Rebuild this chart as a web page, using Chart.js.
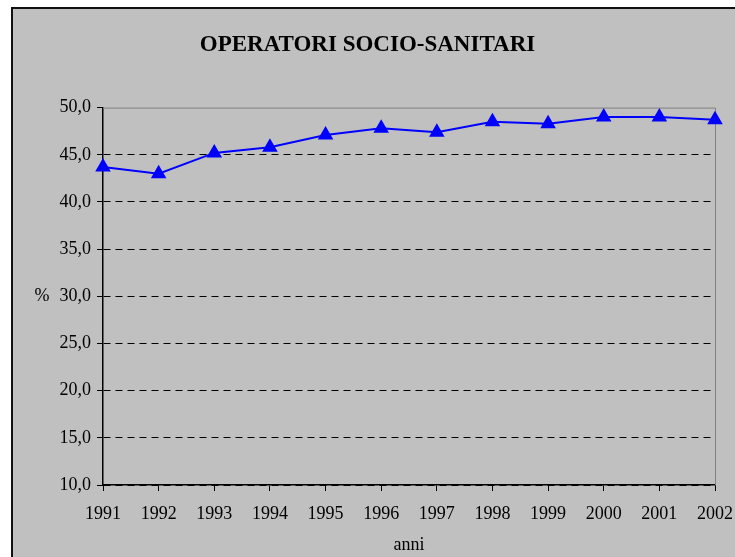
<!DOCTYPE html>
<html>
<head>
<meta charset="utf-8">
<script src="https://cdn.jsdelivr.net/npm/chart.js@4.4.1/dist/chart.umd.min.js"></script>
<style>
  html, body { margin: 0; padding: 0; background: #fff; }
  #wrap { width: 735px; height: 557px; }
</style>
</head>
<body>
<div id="wrap"><canvas id="chart" width="735" height="557"></canvas></div>
<script>
// dati
const anni = ['1991', '1992', '1993', '1994', '1995', '1996', '1997', '1998', '1999', '2000', '2001', '2002'];
const percentuali = [43.7, 43.0, 45.2, 45.8, 47.1, 47.8, 47.4, 48.5, 48.3, 49.0, 49.0, 48.7];
const yMin = 10;
const yMax = 50;
const yStep = 5;

// sfondo grigio con cornice
const frame = {
    id: 'frame',
    beforeDraw(chart) {
        const ctx = chart.ctx;
        ctx.save();
        ctx.fillStyle = '#ffffff';
        ctx.fillRect(0, 0, chart.width, chart.height);
        ctx.fillStyle = '#c0c0c0';
        ctx.fillRect(12, 8, chart.width, chart.height);
        ctx.strokeStyle = '#111';
        ctx.lineWidth = 2;
        ctx.beginPath();
        ctx.moveTo(12, chart.height + 2);
        ctx.lineTo(12, 8);
        ctx.lineTo(chart.width + 2, 8);
        ctx.stroke();
        ctx.restore();
    },
    beforeDatasetsDraw(chart) {
        // bordo grigio dell'area del grafico (sopra e a destra)
        const a = chart.chartArea;
        const ctx = chart.ctx;
        ctx.save();
        ctx.strokeStyle = '#808080';
        ctx.lineWidth = 1;
        ctx.beginPath();
        ctx.moveTo(a.left, a.top + 0.5);
        ctx.lineTo(a.right + 0.5, a.top + 0.5);
        ctx.lineTo(a.right + 0.5, a.bottom);
        ctx.stroke();
        // simbolo % accanto all'asse
        const y = chart.scales.y.getPixelForValue(30);
        ctx.fillStyle = '#000';
        ctx.font = '18px "Liberation Serif"';
        ctx.textAlign = 'center';
        ctx.textBaseline = 'middle';
        ctx.fillText('%', 42, y);
        ctx.restore();
    }
};

const ctx = document.getElementById('chart').getContext('2d');
const chart = new Chart(ctx, {
    type: 'line',
    data: {
        labels: anni,
        datasets: [{
            data: percentuali,
            borderColor: '#0000ff',
            backgroundColor: '#0000ff',
            borderWidth: 2,
            pointStyle: 'triangle',
            pointRadius: 7,
            pointHoverRadius: 7,
            tension: 0
        }]
    },
    plugins: [frame],
    options: {
        responsive: false,
        animation: false,
        layout: { padding: { left: 20, right: 20, top: 0, bottom: 0 } },
        plugins: {
            legend: { display: false },
            tooltip: { enabled: false },
            title: {
                display: true,
                text: 'OPERATORI SOCIO-SANITARI',
                color: '#000',
                font: { family: '"Liberation Serif"', size: 23, weight: 'bold' },
                padding: { top: 31, bottom: 49 }
            }
        },
        scales: {
            x: {
                offset: false,
                afterFit(scale) {
                    scale.height = 72;
                    scale.paddingLeft = 0;
                    scale.paddingRight = 0;
                },
                grid: { drawOnChartArea: false, drawTicks: true, tickLength: 6, tickColor: '#000' },
                border: { color: '#000', width: 1.5 },
                ticks: {
                    color: '#000',
                    font: { family: '"Liberation Serif"', size: 18 },
                    padding: 12,
                    maxRotation: 0,
                    autoSkip: false
                },
                title: {
                    display: true,
                    text: 'anni',
                    color: '#000',
                    font: { family: '"Liberation Serif"', size: 18 },
                    padding: { top: 0, bottom: 1 }
                }
            },
            y: {
                min: yMin,
                max: yMax,
                afterFit(scale) { scale.width = 83; },
                grid: {
                    color: c => (c.tick && c.tick.value === yMax) ? 'rgba(0,0,0,0)' : '#000',
                    tickColor: '#000',
                    tickLength: 6,
                    tickBorderDash: [],
                    lineWidth: 1
                },
                border: { color: '#000', width: 1.5, dash: [7, 5] },
                ticks: {
                    stepSize: yStep,
                    color: '#000',
                    font: { family: '"Liberation Serif"', size: 18 },
                    padding: 6,
                    callback: v => v.toFixed(1).replace('.', ',')
                }
            }
        }
    }
});
</script>
</body>
</html>
